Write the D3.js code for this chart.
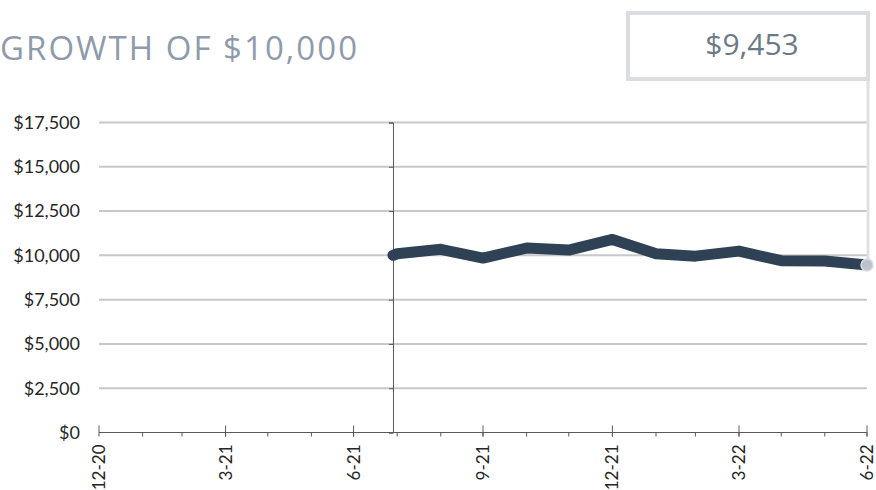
<!DOCTYPE html>
<html>
<head>
<meta charset="utf-8">
<script src="https://cdn.jsdelivr.net/npm/d3@7"></script>
<style>
  body { margin: 0; background: #fff; }
  svg { display: block; }
</style>
</head>
<body>
<div id="chart"></div>
<script>
// growth of $10,000 since inception
const dates = ["2021-07-28", "2021-07-31", "2021-08-31", "2021-09-30", "2021-10-31", "2021-11-30",
               "2021-12-31", "2022-01-31", "2022-02-28", "2022-03-31", "2022-04-30",
               "2022-05-31", "2022-06-30"];
const values = [10000, 10090, 10340, 9850, 10410, 10300, 10900, 10095, 9955, 10240, 9700, 9680, 9453];
const yTicks = [0, 2500, 5000, 7500, 10000, 12500, 15000, 17500];
const majorTicks = ["2020-12-31", "2021-03-31", "2021-06-30", "2021-09-30", "2021-12-31", "2022-03-31", "2022-06-30"];
const tickLabels = ["12-20", "3-21", "6-21", "9-21", "12-21", "3-22", "6-22"];
const domainDates = ["2020-12-31", "2022-06-30"];
const title = "GROWTH OF $10,000";

const parse = d3.timeParse("%Y-%m-%d");
const data = dates.map((d, i) => ({ date: parse(d), value: values[i] }));
const last = data[data.length - 1];

const width = 876, height = 490;
const margin = { top: 122.5, right: 9, bottom: 57.5, left: 99 };

const svg = d3.select("#chart").append("svg")
  .attr("width", width)
  .attr("height", height);

const x = d3.scaleTime()
  .domain(domainDates.map(parse))
  .range([margin.left, width - margin.right]);

const y = d3.scaleLinear()
  .domain([0, 17500])
  .range([height - margin.bottom, margin.top]);

const fmt = v => "$" + d3.format(",")(v);

// gridlines
svg.append("g")
  .selectAll("line")
  .data(yTicks.filter(d => d > 0))
  .enter()
  .append("line")
  .attr("x1", x.range()[0])
  .attr("x2", x.range()[1])
  .attr("y1", d => y(d))
  .attr("y2", d => y(d))
  .attr("stroke", "#c8c8cc")
  .attr("stroke-width", 2);

// y labels
svg.append("g")
  .selectAll("text")
  .data(yTicks)
  .enter()
  .append("text")
  .attr("x", 80)
  .attr("y", d => y(d))
  .attr("dy", "0.35em")
  .attr("text-anchor", "end")
  .style("font-family", "Lato, 'Open Sans', sans-serif")
  .style("font-size", "18px")
  .style("fill", "#262626")
  .text(fmt);

// secondary axis at inception
const inception = data[0].date;
svg.append("g")
  .attr("transform", `translate(${x(inception)},0)`)
  .call(d3.axisLeft(y).tickValues(yTicks).tickSize(4).tickFormat(""))
  .call(g => g.select(".domain").attr("stroke", "#595959"))
  .call(g => g.selectAll(".tick line").attr("stroke", "#595959"));

// x axis
const monthEnds = d3.timeMonth.range(x.domain()[0], d3.timeMonth.offset(x.domain()[1], 1))
  .map(d => d3.timeDay.offset(d3.timeMonth.offset(d, 1), -1))
  .filter(d => d > x.domain()[0] && d <= x.domain()[1]);

const xAxis = svg.append("g")
  .attr("transform", `translate(0,${y(0)})`);

xAxis.append("line")
  .attr("x1", x.range()[0])
  .attr("x2", x.range()[1])
  .attr("stroke", "#595959");

xAxis.selectAll(".minor")
  .data(monthEnds)
  .enter()
  .append("line")
  .attr("x1", d => x(d))
  .attr("x2", d => x(d))
  .attr("y1", 0)
  .attr("y2", 4)
  .attr("stroke", "#595959");

const majors = majorTicks.map(parse);
xAxis.selectAll(".major")
  .data(majors)
  .enter()
  .append("line")
  .attr("x1", d => x(d))
  .attr("x2", d => x(d))
  .attr("y1", -7)
  .attr("y2", 4)
  .attr("stroke", "#595959");

xAxis.selectAll(".lbl")
  .data(majors)
  .enter()
  .append("text")
  .attr("transform", d => `translate(${x(d)},12) rotate(-90)`)
  .attr("dy", "0.35em")
  .attr("text-anchor", "end")
  .style("font-family", "Lato, 'Open Sans', sans-serif")
  .style("font-size", "17px")
  .style("fill", "#262626")
  .text((d, i) => tickLabels[i]);

// connector from callout to last point
svg.append("line")
  .attr("x1", x(last.date) + 1)
  .attr("x2", x(last.date) + 1)
  .attr("y1", 80)
  .attr("y2", y(last.value))
  .attr("stroke", "#dde0e5")
  .attr("stroke-width", 3);

// line
const line = d3.line()
  .x(d => x(d.date))
  .y(d => y(d.value));

svg.append("path")
  .datum(data)
  .attr("d", line)
  .attr("fill", "none")
  .attr("stroke", "#2e4155")
  .attr("stroke-width", 11)
  .attr("stroke-linecap", "round")
  .attr("stroke-linejoin", "round");

svg.append("circle")
  .attr("cx", x(last.date))
  .attr("cy", y(last.value))
  .attr("r", 6)
  .attr("fill", "#bcc3cc")
  .attr("stroke", "#d8dce2")
  .attr("stroke-width", 1.5);

// title
svg.append("text")
  .attr("x", 0)
  .attr("y", 60)
  .attr("textLength", 357)
  .attr("lengthAdjust", "spacing")
  .style("font-family", "'Open Sans', sans-serif")
  .style("font-size", "33px")
  .style("fill", "#8e9bab")
  .text(title);

// callout box
svg.append("rect")
  .attr("x", 628)
  .attr("y", 13)
  .attr("width", 240)
  .attr("height", 66)
  .attr("fill", "#fff")
  .attr("stroke", "#dadde2")
  .attr("stroke-width", 4);

svg.append("text")
  .attr("x", 752)
  .attr("y", 55)
  .attr("text-anchor", "middle")
  .style("font-family", "'Open Sans', sans-serif")
  .style("font-size", "30px")
  .style("fill", "#6b7a89")
  .text(fmt(last.value));
</script>
</body>
</html>
